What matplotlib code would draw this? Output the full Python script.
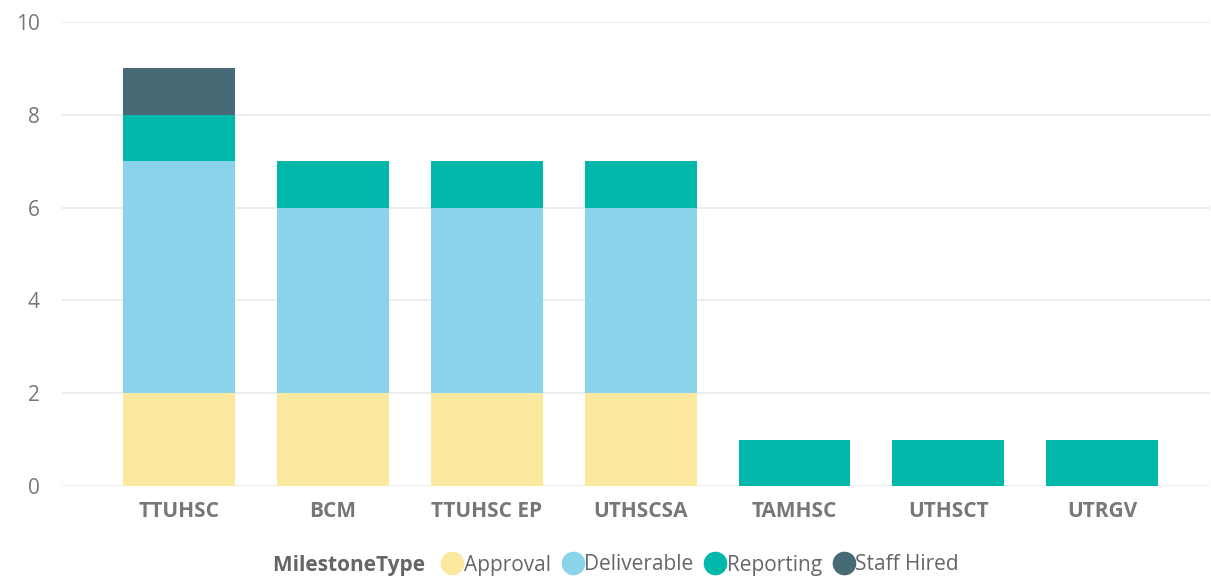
import matplotlib
matplotlib.use("Agg")
import matplotlib.pyplot as plt
from matplotlib.lines import Line2D

categories = ["TTUHSC", "BCM", "TTUHSC EP", "UTHSCSA", "TAMHSC", "UTHSCT", "UTRGV"]
approval = [2, 2, 2, 2, 0, 0, 0]
deliverable = [5, 4, 4, 4, 0, 0, 0]
reporting = [1, 1, 1, 1, 1, 1, 1]
staff_hired = [1, 0, 0, 0, 0, 0, 0]
series_names = ["Approval", "Deliverable", "Reporting", "Staff Hired"]
colors = ["#FAE99F", "#8AD4EB", "#01B8AA", "#466B76"]
yticks = [0, 2, 4, 6, 8, 10]

plt.rcParams['font.family'] = ['Open Sans', 'DejaVu Sans']
fig = plt.figure(figsize=(12.11, 5.78), dpi=100)
ax = fig.add_axes([62/1211, 92/578, (1210-62)/1211, (486-22)/578])

x = list(range(len(categories)))
bottom = [0]*len(categories)
for vals, c in zip([approval, deliverable, reporting, staff_hired], colors):
    ax.bar(x, vals, bottom=bottom, width=0.727, color=c, zorder=3)
    bottom = [b+v for b, v in zip(bottom, vals)]

ax.set_ylim(0, 10)
ax.set_xlim(-0.76, 6.70)
ax.set_yticks(yticks)
ax.grid(axis='y', color='#E9E9E9', linewidth=1.2, zorder=0)
for s in ax.spines.values():
    s.set_visible(False)
ax.tick_params(axis='both', length=0)
ax.tick_params(axis='y', labelsize=15, labelcolor='#777777', pad=16)
ax.set_xticks(x)
ax.set_xticklabels(categories, fontsize=15, fontweight='bold', color='#777777')
ax.tick_params(axis='x', pad=11)

handles = [Line2D([0], [0], marker='o', linestyle='', markersize=16,
                  markerfacecolor=c, markeredgecolor=c) for c in colors]
title_handle = Line2D([0], [0], linestyle='', marker='')
leg = fig.legend([title_handle] + handles, ["MilestoneType"] + series_names,
                 loc='center', bbox_to_anchor=(605/1211, 1 - 565/578), ncol=5,
                 frameon=False, fontsize=15, handletextpad=0.05, columnspacing=0.55,
                 handlelength=1.0)
for t in leg.get_texts():
    t.set_color('#666666')
leg.get_texts()[0].set_fontweight('bold')
leg.get_texts()[0].set_text("MilestoneType ")

fig.savefig("out.png", dpi=100)
